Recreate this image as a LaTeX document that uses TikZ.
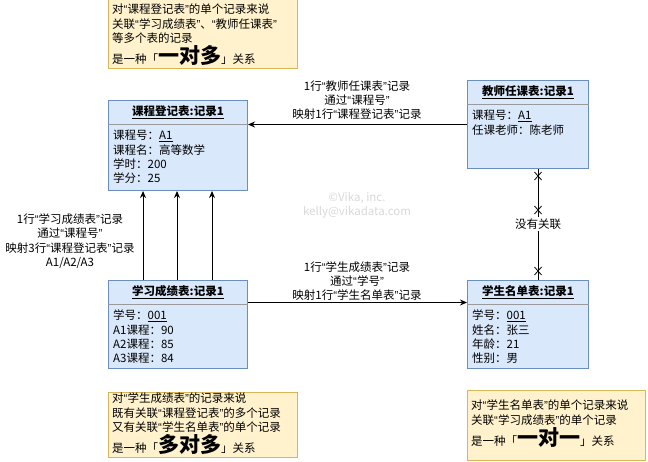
\documentclass[tikz,border=0pt]{standalone}
\usepackage{fontspec}
\setmainfont{Noto Sans CJK SC}
\newfontfamily\latf{Liberation Sans}
\usetikzlibrary{arrows.meta}
\definecolor{boxfill}{HTML}{DAE8FC}
\definecolor{boxline}{HTML}{6C8EBF}
\definecolor{notefill}{HTML}{FFF2CC}
\definecolor{noteline}{HTML}{D6B656}
\definecolor{sepgray}{HTML}{9A9A9A}
\definecolor{wmark}{HTML}{D8D8D8}
\newcommand{\bigrel}[1]{是一种「{\fontsize{21}{21}\selectfont\bfseries #1}」关系}
\newcommand{\qt}[1]{{\latf “}#1{\latf ”}}
\begin{document}
\begin{tikzpicture}[x=1pt,y=-1pt,
  every node/.style={font=\fontsize{11.5}{14.3}\selectfont, inner sep=0pt},
  recbox/.style={draw=boxline, fill=boxfill, line width=1pt, anchor=north west},
  notebox/.style={draw=noteline, fill=notefill, line width=1pt, anchor=north west},
  sepline/.style={draw=sepgray, line width=1pt},
  rectitle/.style={font=\fontsize{11.5}{14.3}\selectfont\bfseries},
  recbody/.style={align=left, anchor=north west},
  lbl/.style={align=center},
  arr/.style={line width=1pt, -{Stealth[length=7pt,width=6pt]}},
  plain/.style={line width=1pt},
  xm/.style={line width=0.8pt}
]
\useasboundingbox (0,0) rectangle (648,461);

% ---------- notes ----------
\node[notebox, minimum width=189, minimum height=69] (noteTop) at (108,-1) {};
\node[recbody] (noteTopT) at (112,4) {对\qt{课程登记表}的单个记录来说\\关联\qt{学习成绩表}、\qt{教师任课表}\\等多个表的记录\\[1pt]\bigrel{一对多}};

\node[notebox, minimum width=189, minimum height=65] (noteBL) at (108,392) {};
\node[recbody] (noteBLT) at (112,393) {对\qt{学生成绩表}的记录来说\\既有关联\qt{课程登记表}的多个记录\\又有关联\qt{学生名单表}的单个记录\\[1pt]\bigrel{多对多}};

\node[notebox, minimum width=178, minimum height=70] (noteBR) at (467,390) {};
\node[recbody] (noteBRT) at (471,400) {对\qt{学生名单表}的单个记录来说\\关联\qt{学习成绩表}的单个记录\\[1pt]\bigrel{一对一}};

% ---------- record boxes ----------
\node[recbox, minimum width=139, minimum height=90] (course) at (108,100) {};
\draw[sepline] ([yshift=-24pt]course.north west) -- ([yshift=-24pt]course.north east);
\node[rectitle] (courseT) at ([yshift=-12pt]course.north) {\underline{课程登记表:记录1}};
\node[recbody] (courseB) at ([xshift=5pt,yshift=-30pt]course.north west) {课程号：\underline{A1}\\课程名：高等数学\\学时：200\\学分：25};

\node[recbox, minimum width=121, minimum height=88] (teacher) at (467,80) {};
\draw[sepline] ([yshift=-24pt]teacher.north west) -- ([yshift=-24pt]teacher.north east);
\node[rectitle] (teacherT) at ([yshift=-12pt]teacher.north) {\underline{教师任课表:记录1}};
\node[recbody] (teacherB) at ([xshift=5pt,yshift=-30pt]teacher.north west) {课程号：\underline{A1}\\任课老师：陈老师};

\node[recbox, minimum width=139, minimum height=88] (learn) at (108,280) {};
\draw[sepline] ([yshift=-24pt]learn.north west) -- ([yshift=-24pt]learn.north east);
\node[rectitle] (learnT) at ([yshift=-12pt]learn.north) {\underline{学习成绩表:记录1}};
\node[recbody] (learnB) at ([xshift=5pt,yshift=-30pt]learn.north west) {学号：\underline{001}\\A1课程：90\\A2课程：85\\A3课程：84};

\node[recbox, minimum width=121, minimum height=88] (student) at (467,280) {};
\draw[sepline] ([yshift=-24pt]student.north west) -- ([yshift=-24pt]student.north east);
\node[rectitle] (studentT) at ([yshift=-12pt]student.north) {\underline{学生名单表:记录1}};
\node[recbody] (studentB) at ([xshift=5pt,yshift=-30pt]student.north west) {学号：\underline{001}\\姓名：张三\\年龄：21\\性别：男};

% ---------- connectors ----------
\draw[arr] (teacher.west) -- (teacher.west -| course.east);
\node[lbl] (lblTop) at (357,100) {1行\qt{教师任课表}记录\\通过\qt{课程号}\\映射1行\qt{课程登记表}记录};

\draw[arr] ([yshift=22pt]learn.east) -- ([yshift=22pt]learn.east -| student.west);
\node[lbl] (lblBot) at (357,281) {1行\qt{学生成绩表}记录\\通过\qt{学号}\\映射1行\qt{学生名单表}记录};

\draw[arr] ([xshift=35pt]learn.north west) -- ([xshift=35pt]course.south west);
\draw[arr] ([xshift=69pt]learn.north west) -- ([xshift=69pt]course.south west);
\draw[arr] ([xshift=104pt]learn.north west) -- ([xshift=104pt]course.south west);
\node[lbl] (lblLeft) at (70,241) {1行\qt{学习成绩表}记录\\通过\qt{课程号}\\映射3行\qt{课程登记表}记录\\A1/A2/A3};

% no relation
\coordinate (nrTop) at ([xshift=71pt]teacher.south west);
\coordinate (nrBot) at ([xshift=71pt]student.north west);
\draw[plain] (nrTop) -- (nrBot);
\node[lbl, fill=white, inner sep=1.5pt] (lblNo) at (538,224) {没有关联};
\draw[xm] (538,176) ++(-3.5,-4) -- ++(7,8) ++(-7,0) -- ++(7,-8);
\draw[xm] (538,210) ++(-3.5,-4) -- ++(7,8) ++(-7,0) -- ++(7,-8);
\draw[xm] (538,271) ++(-3.5,-4) -- ++(7,8) ++(-7,0) -- ++(7,-8);

% watermark
\node[lbl, text=wmark] (wm) at (357,205) {©Vika, inc.\\kelly@vikadata.com};
\end{tikzpicture}
\end{document}
